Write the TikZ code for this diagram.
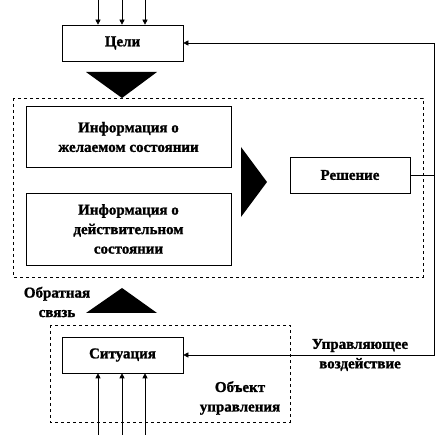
\documentclass[tikz,border=0pt]{standalone}
\usepackage{fontspec}
\setmainfont{Liberation Serif}[BoldFeatures={FakeBold=1.3}]
\usetikzlibrary{arrows.meta}
\tikzset{
  box/.style={draw, line width=0.6pt, minimum width=121pt, minimum height=36pt, inner sep=0pt},
  infobox/.style={draw, line width=0.6pt, minimum width=205pt, inner sep=0pt, align=center},
  grp/.style={draw, dashed, line width=0.6pt},
  lbl/.style={font=\fontsize{15}{19.5}\selectfont\bfseries, align=center},
  conn/.style={line width=0.6pt},
  arr/.style={conn, -{Triangle[length=5pt,width=5pt]}},
  bigtri/.style={fill=black, draw=none}
}
\begin{document}
\begin{tikzpicture}[x=1pt, y=-1pt]
\useasboundingbox (0,0) rectangle (448,435);
% groups
\draw[grp] (13,98) rectangle (423,277);
\draw[grp] (50,325) rectangle (290,422);
% nodes
\node[box, lbl] (goals) at (122.5,43) {Цели};
\node[infobox, lbl, minimum height=61pt] (info1) at (128.5,137) {Информация о\\желаемом состоянии};
\node[infobox, lbl, minimum height=72pt] (info2) at (128.5,229) {Информация о\\действительном\\состоянии};
\node[box, lbl, minimum width=120pt] (dec) at (350,175) {Решение};
\node[box, lbl] (sit) at (122.5,355) {Ситуация};
% big triangles
\fill[bigtri] (86,72) -- (157,72) -- (122,98) -- cycle;
\fill[bigtri] (241,147) -- (267,182) -- (241,217) -- cycle;
\fill[bigtri] (86,313) -- (157,313) -- (122,288) -- cycle;
% labels
\node[lbl] (fb) at (57,302) {Обратная\\связь};
\node[lbl] (ctl) at (360,355) {Управляющее\\воздействие};
\node[lbl] (obj) at (240,398) {Объект\\управления};
% connectors
\coordinate (c1) at (434,43);
\coordinate (c2) at (434,355);
\draw[conn] (dec.east) -- (dec.east -| c1);
\draw[arr] (dec.east -| c1) -- (c1) -- (goals.east);
\draw[arr] (dec.east -| c1) -- (c2) -- (sit.east);
% inputs
\foreach \x [count=\i] in {98,122,145} {
  \coordinate (t\i) at (\x,0);
  \coordinate (b\i) at (\x,435);
  \draw[arr] (t\i) -- (t\i |- goals.north);
  \draw[arr] (b\i) -- (b\i |- sit.south);
}
\end{tikzpicture}
\end{document}
